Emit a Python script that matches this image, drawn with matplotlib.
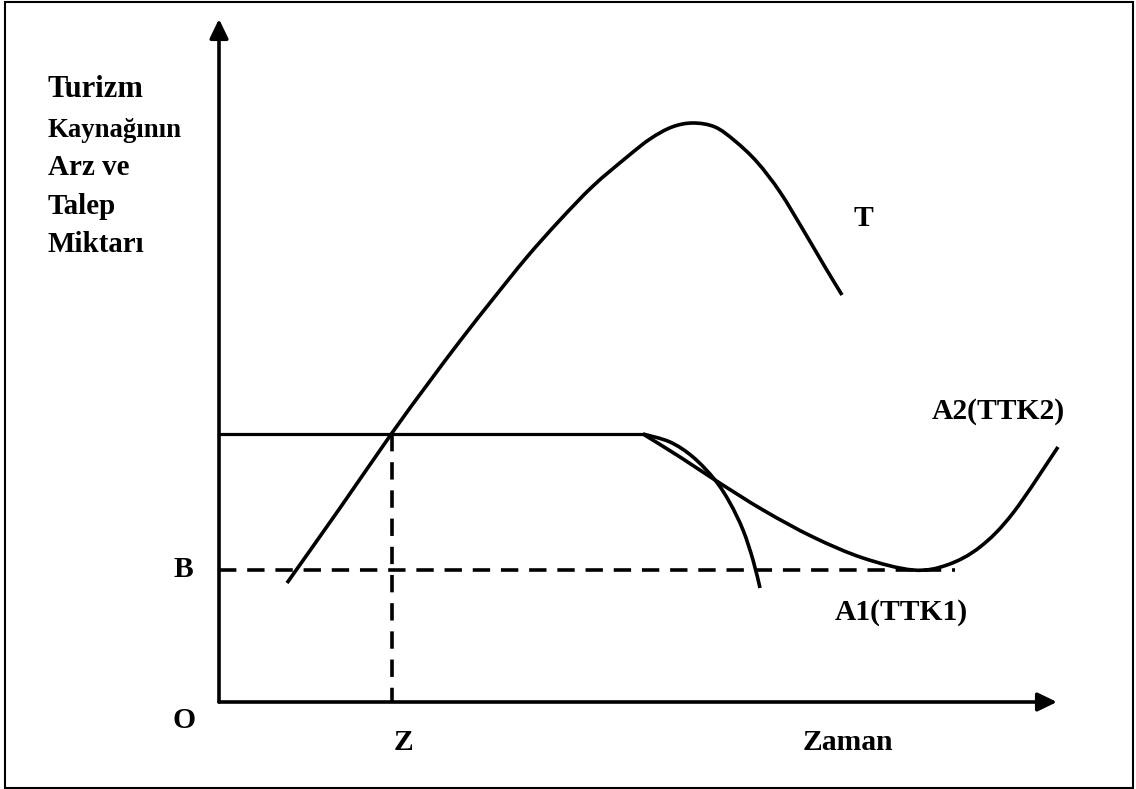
import matplotlib
matplotlib.use("Agg")
import matplotlib.pyplot as plt
import numpy as np
from matplotlib.patches import Rectangle, PathPatch
from matplotlib.path import Path

# ---- data (schematic units, origin at O) ----
t_x = [68, 121, 173, 208, 241, 274, 308, 341, 374, 408, 431, 453, 474, 496, 516, 538, 561, 586, 606, 623]
t_y = [119, 194, 269, 317, 361, 403, 445, 482, 516, 545, 563, 575, 579, 575, 561, 540, 510, 469, 435, 407]

a1_x = [424, 451, 474, 496, 511, 524, 534, 541]
a1_y = [268, 260, 245, 222, 199, 172, 142, 114]

a2_x = [424, 461, 496, 544, 594, 644, 694, 728, 761, 794, 839]
a2_y = [268, 245, 222, 192, 165, 144, 132, 137, 155, 189, 255]

supply_level = 268      # initial supply (horizontal solid line)
supply_end = 424
b_level = 132           # B level (dashed)
b_end = 736
z_x = 173               # Z point in time

y_axis_top = 683
x_axis_right = 838

ylabel_lines = ["Turizm", "Kaynağının", "Arz ve", "Talep", "Miktarı"]
ylabel_sizes = [22, 19.3, 20.9, 20.9, 20.9]

W, H = 1136, 789
ox, oy = 219, 702   # pixel position of origin

fig = plt.figure(figsize=(W / 100, H / 100), dpi=100)
ax = fig.add_axes([0, 0, 1, 1])
ax.set_xlim(-ox, W - ox)
ax.set_ylim(oy - H, oy)
ax.axis("off")

font = dict(family="Liberation Serif", weight="bold", color="black")
lw_curve = 2.6
lw_axis = 2.6


def smooth_path(xs, ys):
    """Cubic Bezier path passing through every read point (Catmull-Rom tangents)."""
    p = np.column_stack([xs, ys]).astype(float)
    n = len(p)
    verts = [p[0]]
    codes = [Path.MOVETO]
    for i in range(n - 1):
        p0 = p[i - 1] if i > 0 else p[i]
        p1, p2 = p[i], p[i + 1]
        p3 = p[i + 2] if i + 2 < n else p[i + 1]
        c1 = p1 + (p2 - p0) / 6.0
        c2 = p2 - (p3 - p1) / 6.0
        verts += [c1, c2, p2]
        codes += [Path.CURVE4] * 3
    return Path(verts, codes)


# border
ax.add_patch(Rectangle((5 - ox, oy - 788), 1128, 786, fill=False, lw=1.5,
                       edgecolor="black", zorder=1))

# axes with arrows
for xy in [(0, y_axis_top), (x_axis_right, 0)]:
    ax.annotate("", xy=xy, xytext=(0, 0),
                arrowprops=dict(arrowstyle="-|>,head_length=0.58,head_width=0.28",
                                lw=lw_axis, color="black", shrinkA=0, shrinkB=0,
                                mutation_scale=20))

# dashed guides
dash = (0, (12.5 / lw_curve, 7.8 / lw_curve))
ax.plot([0, b_end], [b_level, b_level], color="black", lw=lw_curve,
        linestyle=dash, dash_capstyle="butt")
ax.plot([z_x, z_x], [supply_level, 0], color="black", lw=lw_curve,
        linestyle=dash, dash_capstyle="butt")

# supply level
ax.plot([0, supply_end], [supply_level, supply_level], color="black", lw=2.3,
        solid_capstyle="butt")

# curves
for xs, ys in [(t_x, t_y), (a1_x, a1_y), (a2_x, a2_y)]:
    ax.add_patch(PathPatch(smooth_path(xs, ys), fill=False, lw=lw_curve,
                           edgecolor="black", capstyle="butt", joinstyle="round"))

# y label lines
baselines = [96.7, 136.7, 175, 213.5, 251.7]
for txt, sz, by in zip(ylabel_lines, ylabel_sizes, baselines):
    ax.text(48 - ox, oy - by, txt, fontsize=sz, ha="left", va="baseline", **font)

# other labels (left x px, baseline px)
labels = [("T", 853, 226), ("A2(TTK2)", 932, 419), ("A1(TTK1)", 835, 620),
          ("Zaman", 803, 750), ("Z", 394, 750), ("O", 173, 728), ("B", 173, 577)]
for txt, px, py in labels:
    ax.text(px - ox, oy - py, txt, fontsize=21.3, ha="left", va="baseline", **font)

fig.savefig("out.png", dpi=100, facecolor="white")
